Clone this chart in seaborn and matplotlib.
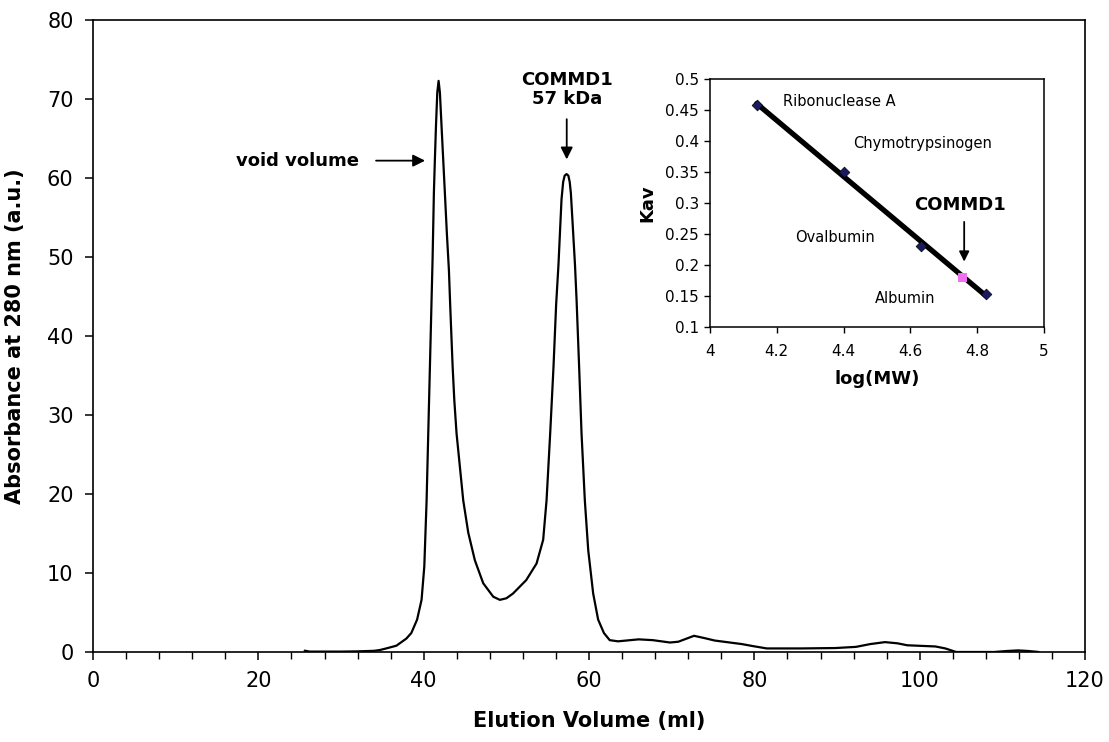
import numpy as np
import pandas as pd
import matplotlib
matplotlib.use("Agg")
import matplotlib.pyplot as plt
from matplotlib.ticker import MultipleLocator
import seaborn as sns

# ---- main chromatogram data ----
elution_ml = [25.6, 26.2, 28, 30, 32, 34, 34.7, 35.5, 36.7, 37.1, 37.9, 38.5, 39.2, 39.74,
              40.07, 40.35, 40.55, 40.75, 40.95, 41.07, 41.15, 41.23, 41.35, 41.48, 41.64,
              41.8, 41.96, 42.16, 42.36, 42.56, 42.8, 43.05, 43.2, 43.35, 43.5, 43.7, 43.97,
              44.38, 44.78, 45.39, 46.19, 47.2, 48.41, 49.21, 50.0, 50.8, 52.4, 53.65, 54.45,
              54.86, 55.3, 55.7, 56.02, 56.3, 56.5, 56.67, 56.87, 57.05, 57.28, 57.5,
              57.66, 57.8, 58.0, 58.3, 58.49, 58.8, 59.09, 59.49, 59.9, 60.5, 61.1, 61.8,
              62.5, 63.5, 66.0, 67.7, 69.8, 70.8, 72.7, 74.0, 75.2, 78.5, 79.8, 81.5, 85.6,
              89.8, 92.3, 94.0, 95.8, 97.3, 98.5, 101.9, 103.1, 104.4, 109.0, 110.6, 111.9,
              113.1, 114.4]
absorbance = [0.17, 0.05, 0.05, 0.05, 0.08, 0.15, 0.25, 0.46, 0.8, 1.1, 1.7, 2.4, 4.1, 6.6,
              10.8, 19.2, 27.7, 36.1, 44.6, 49.6, 53.8, 58.1, 62.3, 66.5, 70.8,
              72.3, 70.8, 66.5, 62.3, 58.1, 53.0, 48.3, 44.0, 40.0, 36.1, 31.9, 27.7,
              23.4, 19.2, 15.1, 11.6, 8.7, 7.0, 6.6, 6.8, 7.4, 9.1, 11.2, 14.2,
              19.2, 27.7, 36.1, 44.0, 49.0, 53.5, 57.3, 59.5, 60.3, 60.5, 60.3,
              59.5, 58.1, 54.5, 49.0, 44.6, 36.1, 27.7, 19.2, 12.9, 7.4, 4.1, 2.4,
              1.5, 1.35, 1.6, 1.5, 1.2, 1.3, 2.05, 1.75, 1.45, 1.0, 0.75, 0.45, 0.45,
              0.5, 0.65, 1.0, 1.25, 1.1, 0.85, 0.7, 0.45, 0.0, 0.0, 0.13, 0.2,
              0.13, 0.0]

# ---- inset calibration data ----
standards = ["Ribonuclease A", "Chymotrypsinogen", "Ovalbumin", "Albumin"]
log_mw = [4.14, 4.40, 4.633, 4.826]
kav = [0.458, 0.35, 0.23, 0.153]
commd1_logmw = [4.756]
commd1_kav = [0.18]

x_ticks_main = [0, 20, 40, 60, 80, 100, 120]
y_ticks_main = [0, 10, 20, 30, 40, 50, 60, 70, 80]
x_ticks_inset = [4, 4.2, 4.4, 4.6, 4.8, 5]
y_ticks_inset = [0.1, 0.15, 0.2, 0.25, 0.3, 0.35, 0.4, 0.45, 0.5]

sns.set_theme(style="ticks")
plt.rcParams['font.family'] = ['DejaVu Sans']
plt.rcParams['axes.edgecolor'] = 'black'
plt.rcParams['xtick.color'] = 'black'
plt.rcParams['ytick.color'] = 'black'
plt.rcParams['text.color'] = 'black'
plt.rcParams['axes.labelcolor'] = 'black'

fig = plt.figure(figsize=(11.09, 7.42), dpi=100)
ax = fig.add_axes([0.0839, 0.1213, 0.9784 - 0.0839, 0.973 - 0.1213])

df = pd.DataFrame({"vol": elution_ml, "abs": absorbance})
sns.lineplot(data=df, x="vol", y="abs", ax=ax, color="black", lw=1.6, sort=False,
             estimator=None)

ax.set_xlim(0, 120)
ax.set_ylim(0, 80)
ax.set_xticks(x_ticks_main)
ax.set_yticks(y_ticks_main)
ax.xaxis.set_minor_locator(MultipleLocator(4))
ax.tick_params(axis='both', which='major', labelsize=15, length=6, width=1.1, direction='out',
               pad=8)
ax.tick_params(axis='x', which='minor', length=5, width=1.0, direction='out')
for s in ax.spines.values():
    s.set_linewidth(1.2)
    s.set_color('black')
ax.set_xlabel("Elution Volume (ml)", fontsize=15, fontweight='bold', labelpad=14)
ax.set_ylabel("Absorbance at 280 nm (a.u.)", fontsize=15, fontweight='bold', labelpad=16)

# annotations
ax.annotate("", xy=(40.5, 62.2), xytext=(33.9, 62.2),
            arrowprops=dict(arrowstyle="-|>", color="black", lw=1.3, mutation_scale=18))
ax.text(32.2, 62.2, "void volume", ha="right", va="center", fontsize=13, fontweight="bold")
ax.annotate("", xy=(57.3, 62.0), xytext=(57.3, 67.8),
            arrowprops=dict(arrowstyle="-|>", color="black", lw=1.3, mutation_scale=18))
ax.text(57.3, 71.2, "COMMD1\n57 kDa", ha="center", va="center", fontsize=13,
        fontweight="bold", linespacing=1.05)

# ---- inset ----
ins = fig.add_axes([0.6402, 0.5593, 0.9414 - 0.6402, 0.8935 - 0.5593])
coef = np.polyfit(log_mw, kav, 1)
fit_x = np.array([min(log_mw), max(log_mw)])
fit_df = pd.DataFrame({"x": fit_x, "y": np.polyval(coef, fit_x)})
sns.lineplot(data=fit_df, x="x", y="y", ax=ins, color="black", lw=3.8)
std_df = pd.DataFrame({"x": log_mw, "y": kav, "name": standards})
sns.scatterplot(data=std_df, x="x", y="y", ax=ins, marker="D", s=30, color="#1a1a5e",
                edgecolor="black", linewidth=0.5, zorder=5)
cm_df = pd.DataFrame({"x": commd1_logmw, "y": commd1_kav})
sns.scatterplot(data=cm_df, x="x", y="y", ax=ins, marker="s", s=40, color="#f070f0",
                edgecolor="none", zorder=6)

ins.set_xlim(4, 5)
ins.set_ylim(0.1, 0.5)
ins.set_xticks(x_ticks_inset)
ins.set_yticks(y_ticks_inset)
ins.set_xticklabels([f"{v:g}" for v in x_ticks_inset])
ins.set_yticklabels([f"{v:g}" for v in y_ticks_inset])
ins.tick_params(axis='both', labelsize=11, length=4, width=1.0, direction='out', pad=4)
ins.tick_params(axis='x', pad=8)
for s in ins.spines.values():
    s.set_linewidth(1.1)
    s.set_color('black')
ins.set_xlabel("log(MW)", fontsize=13, fontweight='bold', labelpad=8)
ins.set_ylabel("Kav", fontsize=13, fontweight='bold', labelpad=6)

label_pos = {"Ribonuclease A": (4.219, 0.4635), "Chymotrypsinogen": (4.428, 0.3965),
             "Ovalbumin": (4.254, 0.244), "Albumin": (4.4925, 0.1456)}
for name in standards:
    x, y = label_pos[name]
    ins.text(x, y, name, ha="left", va="center", fontsize=10.5)
ins.text(4.612, 0.297, "COMMD1", ha="left", va="center", fontsize=13, fontweight="bold")
ins.annotate("", xy=(4.761, 0.201), xytext=(4.761, 0.274),
             arrowprops=dict(arrowstyle="-|>", color="black", lw=1.3, mutation_scale=15))

fig.savefig("out.png", dpi=100)
